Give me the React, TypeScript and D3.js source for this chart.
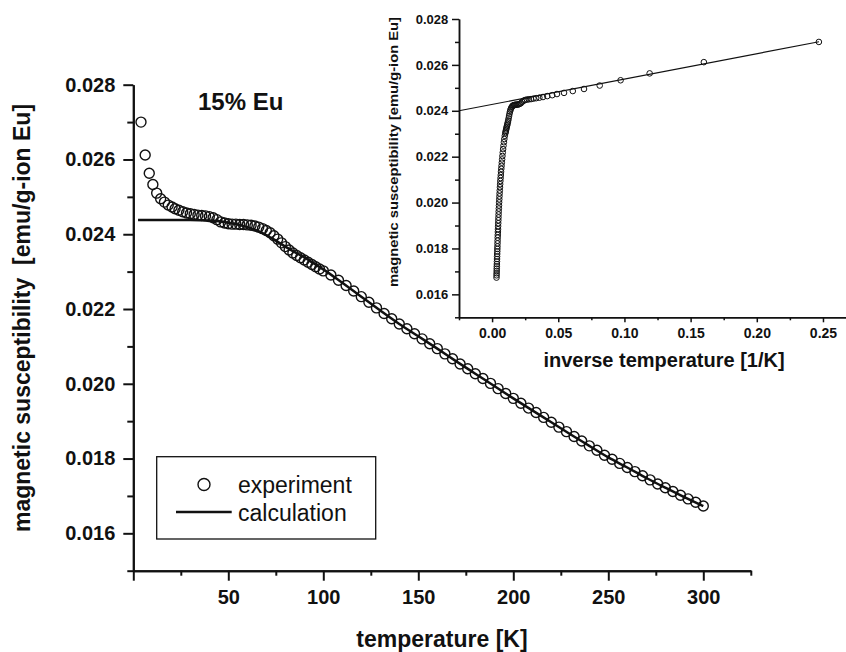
import { useEffect, useRef } from "react";
import * as d3 from "d3";

const W = 846;
const H = 652;
const FONT = "'Liberation Sans', Arial, Helvetica, sans-serif";

// experiment: temperature [K] / susceptibility [emu/g-ion Eu]
const expT = [
  4.05, 6.25, 8.4, 10.3, 12.3, 14.4, 16.4, 18.4, 20.4, 22, 24, 26, 28, 30, 32,
  34, 36, 38, 40, 42, 44, 46, 48, 50, 52, 54, 56, 58, 60, 62, 64, 66, 68, 70,
  72, 74, 76, 78, 80, 82, 84, 86, 88, 90, 92, 94, 96, 98, 100, 104, 108, 112,
  116, 120, 124, 128, 132, 136, 140, 144, 148, 152, 156, 160, 164, 168, 172,
  176, 180, 184, 188, 192, 196, 200, 204, 208, 212, 216, 220, 224, 228, 232,
  236, 240, 244, 248, 252, 256, 260, 264, 268, 272, 276, 280, 284, 288, 292,
  296, 300,
];
const expChi = [
  0.027, 0.02612, 0.02563, 0.02533, 0.0251, 0.02495, 0.02486, 0.02478,
  0.02473, 0.02468, 0.02464, 0.0246, 0.02457, 0.02455, 0.02453, 0.02451,
  0.0245, 0.02449, 0.02447, 0.02444, 0.02439, 0.02433, 0.0243, 0.02428,
  0.02427, 0.02427, 0.02426, 0.02426, 0.02425, 0.02424, 0.02422, 0.02419,
  0.02415, 0.0241, 0.02404, 0.02396, 0.02387, 0.02377, 0.02367, 0.02358,
  0.0235, 0.02343, 0.02337, 0.02331, 0.02325, 0.02319, 0.02313, 0.02307,
  0.02302, 0.02291, 0.02277, 0.02263, 0.02248, 0.02233, 0.02218, 0.02203,
  0.02188, 0.02174, 0.0216, 0.02147, 0.02134, 0.0212, 0.02107, 0.02094,
  0.0208, 0.02067, 0.02053, 0.0204, 0.02027, 0.02014, 0.02001, 0.01987,
  0.01974, 0.01961, 0.01948, 0.01935, 0.01923, 0.0191, 0.01897, 0.01884,
  0.01872, 0.01859, 0.01847, 0.01834, 0.01822, 0.01809, 0.01798, 0.01787,
  0.01776, 0.01765, 0.01754, 0.01743, 0.01732, 0.01722, 0.01712, 0.01702,
  0.01692, 0.01683, 0.01673,
];

// calculation curve
const calcT = [
  2.5, 10, 20, 30, 40, 45, 50, 55, 60, 65, 70, 75, 80, 85, 90, 95, 100, 110,
  120, 130, 140, 150, 160, 170, 180, 190, 200, 210, 220, 230, 240, 250, 260,
  270, 280, 290, 300,
];
const calcChi = [
  0.02438, 0.02438, 0.02438, 0.02438, 0.02437, 0.02435, 0.02431, 0.02426,
  0.02419, 0.0241, 0.02398, 0.02383, 0.02367, 0.02352, 0.02338, 0.02322,
  0.02306, 0.0227, 0.02233, 0.02196, 0.0216, 0.02127, 0.02094, 0.0206,
  0.02027, 0.01994, 0.01961, 0.01929, 0.01897, 0.01865, 0.01834, 0.01803,
  0.01776, 0.01748, 0.01722, 0.01697, 0.01673,
];

// inset linear fit vs 1/T
const fitInvT = [-0.025, 0.247];
const fitChi = [0.024, 0.02701];

const mainXMajor = [0, 50, 100, 150, 200, 250, 300];
const mainXMinor = [25, 75, 125, 175, 225, 275, 325];
const yMajor = [0.016, 0.018, 0.02, 0.022, 0.024, 0.026, 0.028];
const yMinor = [0.015, 0.017, 0.019, 0.021, 0.023, 0.025, 0.027];
const insetXMajor = [0, 0.05, 0.1, 0.15, 0.2, 0.25];
const insetXMinor = [-0.025, 0.025, 0.075, 0.125, 0.175, 0.225];

function styleAxis(g, size, width) {
  g.select(".domain").attr("stroke", "#111").attr("stroke-width", width);
  g.selectAll(".tick line").attr("stroke", "#111").attr("stroke-width", width);
  g.selectAll("text")
    .attr("fill", "#111")
    .attr("font-family", FONT)
    .attr("font-weight", "bold")
    .attr("font-size", size);
}

export default function App() {
  const svgRef = useRef(null);

  useEffect(() => {
    const svg = d3.select(svgRef.current);
    svg.selectAll("*").remove();

    const expData = expT.map((t, i) => ({ t, chi: expChi[i] }));
    const calcData = calcT.map((t, i) => ({ t, chi: calcChi[i] }));

    // ---------- main plot ----------
    const x = d3.scaleLinear().domain([0, 325]).range([133.3, 750.8]);
    const y = d3.scaleLinear().domain([0.015, 0.028]).range([570.7, 84.7]);

    const gx = svg.append("g").attr("transform", `translate(0,${y(0.015)})`);
    gx.append("g")
      .call(d3.axisBottom(x).tickValues(mainXMinor).tickSize(5).tickSizeOuter(0).tickFormat(() => ""))
      .call((g) => styleAxis(g, 20, 2));
    gx.append("g")
      .call(
        d3.axisBottom(x).tickValues(mainXMajor).tickSize(10).tickPadding(9).tickSizeOuter(0)
          .tickFormat((d) => (d === 0 ? "" : String(d)))
      )
      .call((g) => styleAxis(g, 20, 2));

    const gy = svg.append("g").attr("transform", `translate(${x(0)},0)`);
    gy.append("g")
      .call(d3.axisLeft(y).tickValues(yMinor).tickSize(6).tickSizeOuter(0).tickFormat(() => ""))
      .call((g) => styleAxis(g, 20, 2));
    gy.append("g")
      .call(d3.axisLeft(y).tickValues(yMajor).tickSize(10).tickPadding(8).tickSizeOuter(0).tickFormat(d3.format(".3f")))
      .call((g) => styleAxis(g, 20, 2));

    svg.append("g")
      .selectAll("circle")
      .data(expData)
      .join("circle")
      .attr("cx", (d) => x(d.t))
      .attr("cy", (d) => y(d.chi))
      .attr("r", 5)
      .attr("fill", "none")
      .attr("stroke", "#111")
      .attr("stroke-width", 1.4);

    const line = d3.line().x((d) => x(d.t)).y((d) => y(d.chi)).curve(d3.curveMonotoneX);
    svg.append("path")
      .datum(calcData)
      .attr("d", line)
      .attr("fill", "none")
      .attr("stroke", "#111")
      .attr("stroke-width", 2.5);

    svg.append("text")
      .attr("x", 198)
      .attr("y", 110)
      .attr("font-family", FONT)
      .attr("font-weight", "bold")
      .attr("font-size", 24)
      .attr("fill", "#111")
      .text("15% Eu");

    svg.append("text")
      .attr("transform", "translate(30,318) rotate(-90)")
      .attr("text-anchor", "middle")
      .attr("font-family", FONT)
      .attr("font-weight", "bold")
      .attr("font-size", 23)
      .attr("fill", "#111")
      .style("white-space", "pre")
      .text("magnetic susceptibility  [emu/g-ion Eu]");

    svg.append("text")
      .attr("x", 442)
      .attr("y", 647)
      .attr("text-anchor", "middle")
      .attr("font-family", FONT)
      .attr("font-weight", "bold")
      .attr("font-size", 23)
      .attr("fill", "#111")
      .text("temperature [K]");

    // legend
    const lg = svg.append("g");
    lg.append("rect")
      .attr("x", 156.7).attr("y", 456.7).attr("width", 219).attr("height", 82.3)
      .attr("fill", "#fff").attr("stroke", "#111").attr("stroke-width", 1.3);
    lg.append("circle")
      .attr("cx", 204).attr("cy", 484.5).attr("r", 6)
      .attr("fill", "none").attr("stroke", "#111").attr("stroke-width", 1.4);
    lg.append("line")
      .attr("x1", 176).attr("x2", 231.7).attr("y1", 512).attr("y2", 512)
      .attr("stroke", "#111").attr("stroke-width", 2.5);
    lg.append("text").attr("x", 238).attr("y", 492.7)
      .attr("font-family", FONT).attr("font-size", 23).attr("fill", "#111")
      .text("experiment");
    lg.append("text").attr("x", 238).attr("y", 520.7)
      .attr("font-family", FONT).attr("font-size", 23).attr("fill", "#111")
      .text("calculation");

    // ---------- inset ----------
    const xi = d3.scaleLinear().domain([-0.025, 0.2674]).range([459, 846]);
    const yi = d3.scaleLinear().domain([0.015, 0.028]).range([317.3, 19]);

    const gxi = svg.append("g").attr("transform", `translate(0,${yi(0.015)})`);
    gxi.append("g")
      .call(d3.axisBottom(xi).tickValues(insetXMinor).tickSize(3).tickSizeOuter(0).tickFormat(() => ""))
      .call((g) => styleAxis(g, 14, 1.5));
    gxi.append("g")
      .call(d3.axisBottom(xi).tickValues(insetXMajor).tickSize(5).tickPadding(5.8).tickSizeOuter(0).tickFormat(d3.format(".2f")))
      .call((g) => styleAxis(g, 14, 1.5));

    const gyi = svg.append("g").attr("transform", `translate(${xi(-0.025)},0)`);
    gyi.append("g")
      .call(d3.axisLeft(yi).tickValues(yMinor).tickSize(4).tickSizeOuter(0).tickFormat(() => ""))
      .call((g) => styleAxis(g, 13, 1.5));
    gyi.append("g")
      .call(d3.axisLeft(yi).tickValues(yMajor).tickSize(7).tickPadding(3.7).tickSizeOuter(0).tickFormat(d3.format(".3f")))
      .call((g) => styleAxis(g, 13, 1.5));

    const fitData = fitInvT.map((v, i) => ({ v, chi: fitChi[i] }));
    svg.append("path")
      .datum(fitData)
      .attr("d", d3.line().x((d) => xi(d.v)).y((d) => yi(d.chi)))
      .attr("fill", "none")
      .attr("stroke", "#111")
      .attr("stroke-width", 1.2);

    svg.append("g")
      .selectAll("circle")
      .data(expData)
      .join("circle")
      .attr("cx", (d) => xi(1 / d.t))
      .attr("cy", (d) => yi(d.chi))
      .attr("r", 2.8)
      .attr("fill", "none")
      .attr("stroke", "#111")
      .attr("stroke-width", 1);

    svg.append("text")
      .attr("transform", "translate(398,152) rotate(-90)")
      .attr("text-anchor", "middle")
      .attr("font-family", FONT)
      .attr("font-weight", "bold")
      .attr("font-size", 12.5)
      .attr("textLength", 270)
      .attr("lengthAdjust", "spacingAndGlyphs")
      .attr("fill", "#111")
      .text("magnetic susceptibility [emu/g-ion Eu]");

    svg.append("text")
      .attr("x", 664)
      .attr("y", 367)
      .attr("text-anchor", "middle")
      .attr("font-family", FONT)
      .attr("font-weight", "bold")
      .attr("font-size", 20)
      .attr("fill", "#111")
      .text("inverse temperature [1/K]");
  }, []);

  return (
    <svg
      ref={svgRef}
      width={W}
      height={H}
      style={{ position: "absolute", left: 0, top: 0, background: "#fff" }}
    />
  );
}
